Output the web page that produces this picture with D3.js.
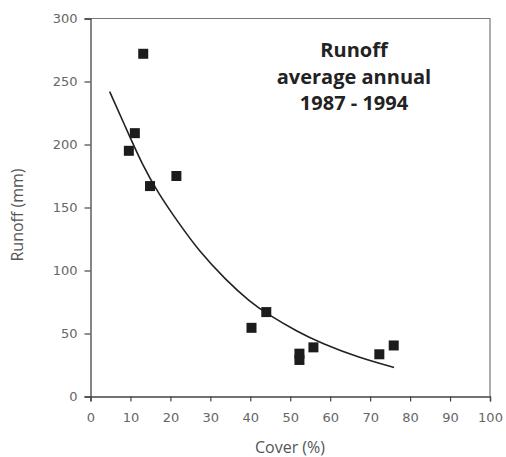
<!DOCTYPE html>
<html lang="en">
<head>
	<meta charset="UTF-8">
	<title>Runoff vs cover</title>

	<script src="https://cdn.jsdelivr.net/npm/d3@7"></script>

	<style>
		body {
			margin: 0;
			background: white;
		}
	</style>
</head>
<body>
	<div id="vis"></div>

	<script>
		var width = 506;
		var height = 457;

		// measured points (cover %, runoff mm)
		var coverPts = [9.6, 11.1, 13.2, 14.9, 21.5, 40.3, 44.0, 52.3, 52.3, 55.8, 72.3, 75.9];
		var runoffPts = [195, 209, 272, 167, 175, 54.5, 67, 34, 29, 39, 33.5, 40.5];

		// trend line
		var curveX = [4.8, 10, 13, 17, 22, 27, 34, 40, 44, 52, 58, 67, 76];
		var curveY = [242, 205, 184, 161, 138, 116, 92, 75, 66, 51, 42, 31, 23];

		var xTicks = [0, 10, 20, 30, 40, 50, 60, 70, 80, 90, 100];
		var yTicks = [0, 50, 100, 150, 200, 250, 300];

		var titleLines = ["Runoff", "average annual", "1987 - 1994"];

		var margin = {top: 18.5, right: 16, bottom: 60.5, left: 90.5};
		var w = width - margin.left - margin.right;
		var h = height - margin.top - margin.bottom;

		var svg = d3.select("#vis").append("svg")
				.attr("width", width)
				.attr("height", height);

		var g = svg.append("g")
				.attr("transform", "translate(" + margin.left + "," + margin.top + ")");

		var x = d3.scaleLinear().domain([0, 100]).range([0, w]);
		var y = d3.scaleLinear().domain([0, 300]).range([h, 0]);

		// frame: top and right edges
		g.append("path")
			.attr("d", "M0,0H" + w + "V" + h)
			.attr("fill", "none")
			.attr("stroke", "#777")
			.attr("stroke-width", 1.2);

		// axes
		var xAxis = g.append("g")
				.attr("transform", "translate(0," + h + ")")
				.call(d3.axisBottom(x).tickValues(xTicks).tickSize(5).tickPadding(11));

		var yAxis = g.append("g")
				.call(d3.axisLeft(y).tickValues(yTicks).tickSize(6).tickPadding(7));

		[xAxis, yAxis].forEach(function(a) {
			a.select(".domain").attr("stroke", "#444").attr("stroke-width", 1.3);
			a.selectAll(".tick line").attr("stroke", "#444").attr("stroke-width", 1.2);
			a.selectAll(".tick text")
				.attr("fill", "#666")
				.style("font-family", "'DejaVu Sans', Verdana, sans-serif")
				.style("font-size", "13px");
		});

		// trend curve
		var line = d3.line()
				.x(function(d, i) { return x(curveX[i]); })
				.y(function(d, i) { return y(curveY[i]); })
				.curve(d3.curveBasis);

		g.append("path")
			.datum(curveX)
			.attr("d", line)
			.attr("fill", "none")
			.attr("stroke", "#222")
			.attr("stroke-width", 1.6);

		// square markers
		var size = 10;
		g.selectAll("rect.pt")
			.data(coverPts)
			.enter().append("rect")
				.attr("class", "pt")
				.attr("x", function(d) { return x(d) - size/2; })
				.attr("y", function(d, i) { return y(runoffPts[i]) - size/2; })
				.attr("width", size)
				.attr("height", size)
				.attr("fill", "#1c1c1c");

		// title block
		svg.append("text")
			.attr("x", 354)
			.attr("y", 57)
			.attr("text-anchor", "middle")
			.attr("fill", "#222")
			.style("font-family", "'Open Sans', sans-serif")
			.style("font-weight", "700")
			.style("font-size", "20px")
			.selectAll("tspan")
			.data(titleLines)
			.enter().append("tspan")
				.attr("x", 354)
				.attr("dy", function(d, i) { return i === 0 ? 0 : 26.5; })
				.text(function(d) { return d; });

		// axis titles
		svg.append("text")
			.attr("x", 290)
			.attr("y", 453)
			.attr("text-anchor", "middle")
			.attr("fill", "#555")
			.style("font-family", "'Open Sans', sans-serif")
			.style("font-size", "16px")
			.text("Cover (%)");

		svg.append("text")
			.attr("transform", "translate(23,215) rotate(-90)")
			.attr("text-anchor", "middle")
			.attr("fill", "#555")
			.style("font-family", "'Open Sans', sans-serif")
			.style("font-size", "16px")
			.text("Runoff (mm)");
	</script>
</body>
</html>
